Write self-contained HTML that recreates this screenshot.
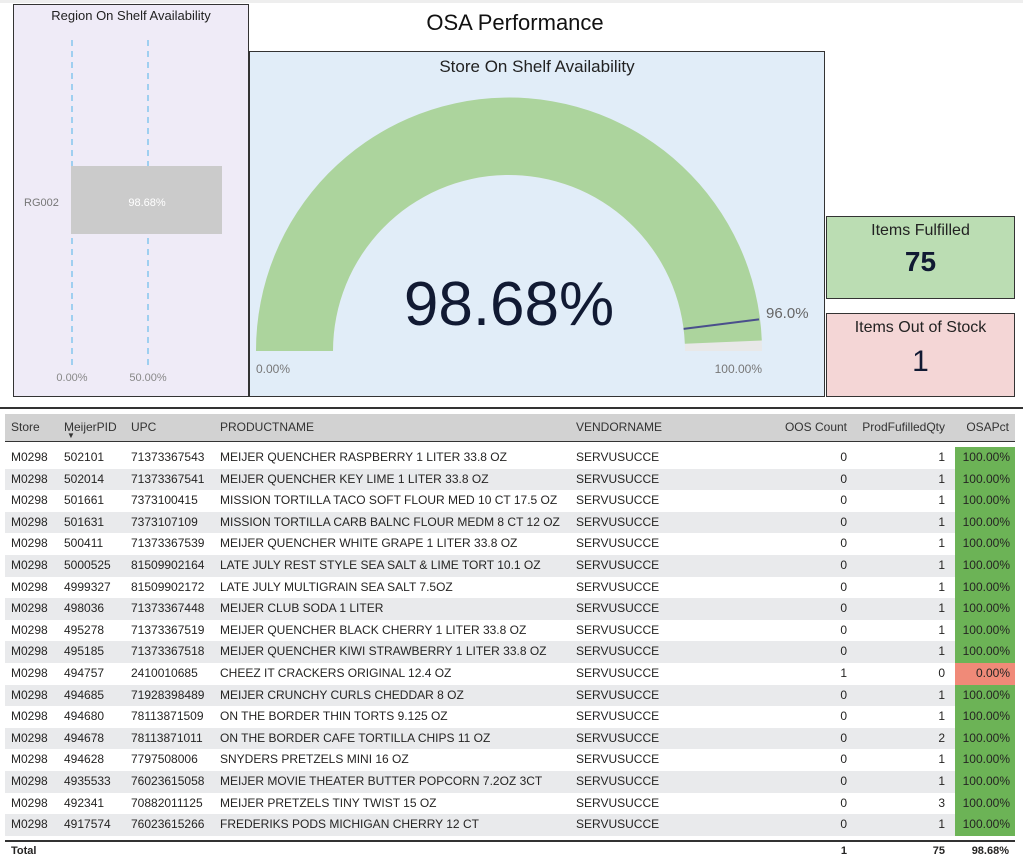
<!DOCTYPE html>
<html><head><meta charset="utf-8">
<style>
*{margin:0;padding:0;box-sizing:border-box}
body{width:1023px;height:864px;background:#fff;position:relative;overflow:hidden;font-family:"Liberation Sans",sans-serif;color:#252423}
.abs{position:absolute}
.row{position:absolute;left:5px;width:1010px;height:21.6px;font-size:12px;line-height:21.6px}
.row span{position:absolute;white-space:nowrap}
.r{text-align:right}
</style></head><body>
<div class="abs" style="left:0;top:0;width:1023px;height:3px;background:#eee"></div>
<div class="abs" style="left:13px;top:4px;width:236px;height:393px;background:#efebf7;border:1.5px solid #333"></div>
<div class="abs" style="left:13px;top:8px;width:236px;text-align:center;font-size:13px;color:#222">Region On Shelf Availability</div>
<svg class="abs" style="left:0;top:0" width="250" height="400">
<line x1="72" y1="40" x2="72" y2="365" stroke="#9fcff0" stroke-width="2" stroke-dasharray="6,5"/>
<line x1="148" y1="40" x2="148" y2="365" stroke="#9fcff0" stroke-width="2" stroke-dasharray="6,5"/>
<rect x="71" y="166" width="151" height="68" fill="#cbcbcb"/>
<text x="147" y="206" font-size="11" fill="#fff" text-anchor="middle" font-family="Liberation Sans">98.68%</text>
<text x="24" y="206" font-size="11" fill="#777" font-family="Liberation Sans">RG002</text>
<text x="72" y="381" font-size="11" fill="#888" text-anchor="middle" font-family="Liberation Sans">0.00%</text>
<text x="148" y="381" font-size="11" fill="#888" text-anchor="middle" font-family="Liberation Sans">50.00%</text>
</svg>
<div class="abs" style="left:380px;top:10px;width:270px;text-align:center;font-size:22px;color:#111">OSA Performance</div>
<div class="abs" style="left:249px;top:51px;width:576px;height:346px;background:#e1edf8;border:1.5px solid #333"></div>
<div class="abs" style="left:249px;top:57px;width:576px;text-align:center;font-size:17px;color:#222">Store On Shelf Availability</div>
<svg class="abs" style="left:0;top:0" width="830" height="400">
<path d="M256 351 A253 253 0 0 1 762 351 L685 351 A176 176 0 0 0 333 351 Z" fill="#e8e8e8"/>
<path d="M256 351 A253 253 0 0 1 761.8 340.5 L684.85 343.7 A176 176 0 0 0 333 351 Z" fill="#acd49d"/>
<line x1="683.6" y1="328.9" x2="759" y2="319.4" stroke="#4a4f8c" stroke-width="2"/>
<text x="766" y="318" font-size="15" fill="#666" font-family="Liberation Sans">96.0%</text>
<text x="256" y="373" font-size="12" fill="#777" font-family="Liberation Sans">0.00%</text>
<text x="762" y="373" font-size="12" fill="#777" text-anchor="end" font-family="Liberation Sans">100.00%</text>
<text x="509" y="325" font-size="62" fill="#111a33" text-anchor="middle" font-family="Liberation Sans">98.68%</text>
</svg>
<div class="abs" style="left:826px;top:216px;width:189px;height:83px;background:#bbddb3;border:1.5px solid #333;text-align:center">
<div style="font-size:16px;margin-top:5px;color:#222">Items Fulfilled</div>
<div style="font-size:28px;margin-top:6px;color:#111a33;font-weight:bold">75</div></div>
<div class="abs" style="left:826px;top:313px;width:189px;height:84px;background:#f4d6d6;border:1.5px solid #333;text-align:center">
<div style="font-size:16px;margin-top:5px;color:#222">Items Out of Stock</div>
<div style="font-size:30px;margin-top:8px;color:#111a33">1</div></div>
<div class="abs" style="left:0;top:407px;width:1023px;height:2px;background:#333"></div>
<div class="abs" style="left:5px;top:414px;width:1010px;height:28px;background:#d2d2d2;border-bottom:1.5px solid #333;font-size:12px;color:#333">
<span class="abs" style="left:6px;top:6px">Store</span>
<span class="abs" style="left:59px;top:6px">MeijerPID</span>
<span class="abs" style="left:62px;top:17px;font-size:8px">▼</span>
<span class="abs" style="left:126px;top:6px">UPC</span>
<span class="abs" style="left:215px;top:6px">PRODUCTNAME</span>
<span class="abs" style="left:571px;top:6px">VENDORNAME</span>
<span class="abs" style="right:168px;top:6px">OOS Count</span>
<span class="abs" style="right:70px;top:6px">ProdFufilledQty</span>
<span class="abs" style="right:6px;top:6px">OSAPct</span>
</div>
<div id="rows"></div>
<div class="abs" style="left:5px;top:840px;width:1010px;height:1.5px;background:#333"></div>
<div class="row" style="top:841px;font-weight:bold;font-size:11px">
<span style="left:6px">Total</span>
<span class="r" style="right:168px">1</span>
<span class="r" style="right:70px">75</span>
<span class="r" style="right:6px">98.68%</span>
</div>
<script>
var d=[["502101","71373367543","MEIJER QUENCHER RASPBERRY 1 LITER 33.8 OZ",0,1],
["502014","71373367541","MEIJER QUENCHER KEY LIME 1 LITER 33.8 OZ",0,1],
["501661","7373100415","MISSION TORTILLA TACO SOFT FLOUR MED 10 CT 17.5 OZ",0,1],
["501631","7373107109","MISSION TORTILLA CARB BALNC FLOUR MEDM 8 CT 12 OZ",0,1],
["500411","71373367539","MEIJER QUENCHER WHITE GRAPE 1 LITER 33.8 OZ",0,1],
["5000525","81509902164","LATE JULY REST STYLE SEA SALT & LIME TORT 10.1 OZ",0,1],
["4999327","81509902172","LATE JULY MULTIGRAIN SEA SALT 7.5OZ",0,1],
["498036","71373367448","MEIJER CLUB SODA 1 LITER",0,1],
["495278","71373367519","MEIJER QUENCHER BLACK CHERRY 1 LITER 33.8 OZ",0,1],
["495185","71373367518","MEIJER QUENCHER KIWI STRAWBERRY 1 LITER 33.8 OZ",0,1],
["494757","2410010685","CHEEZ IT CRACKERS ORIGINAL 12.4 OZ",1,0],
["494685","71928398489","MEIJER CRUNCHY CURLS CHEDDAR 8 OZ",0,1],
["494680","78113871509","ON THE BORDER THIN TORTS 9.125 OZ",0,1],
["494678","78113871011","ON THE BORDER CAFE TORTILLA CHIPS 11 OZ",0,2],
["494628","7797508006","SNYDERS PRETZELS MINI 16 OZ",0,1],
["4935533","76023615058","MEIJER MOVIE THEATER BUTTER POPCORN 7.2OZ 3CT",0,1],
["492341","70882011125","MEIJER PRETZELS TINY TWIST 15 OZ",0,3],
["4917574","76023615266","FREDERIKS PODS MICHIGAN CHERRY 12 CT",0,1]];
var h="";
d.forEach(function(r,i){
var top=447+i*21.6, bg=i%2?"#e9eaec":"#fff", z=r[4]==0;
h+='<div class="row" style="top:'+top+'px;background:'+bg+'">'+
'<span style="left:6px">M0298</span><span style="left:59px">'+r[0]+'</span><span style="left:126px">'+r[1]+'</span>'+
'<span style="left:215px">'+r[2]+'</span><span style="left:571px">SERVUSUCCE</span>'+
'<span class="r" style="right:168px">'+r[3]+'</span><span class="r" style="right:70px">'+r[4]+'</span>'+
'<span style="left:950px;width:60px;height:21.6px;background:'+(z?"#f08a78":"#6cb356")+';text-align:right;padding-right:5px">'+(z?"0.00%":"100.00%")+'</span></div>';
});
document.getElementById("rows").innerHTML=h;
</script>
</body></html>
